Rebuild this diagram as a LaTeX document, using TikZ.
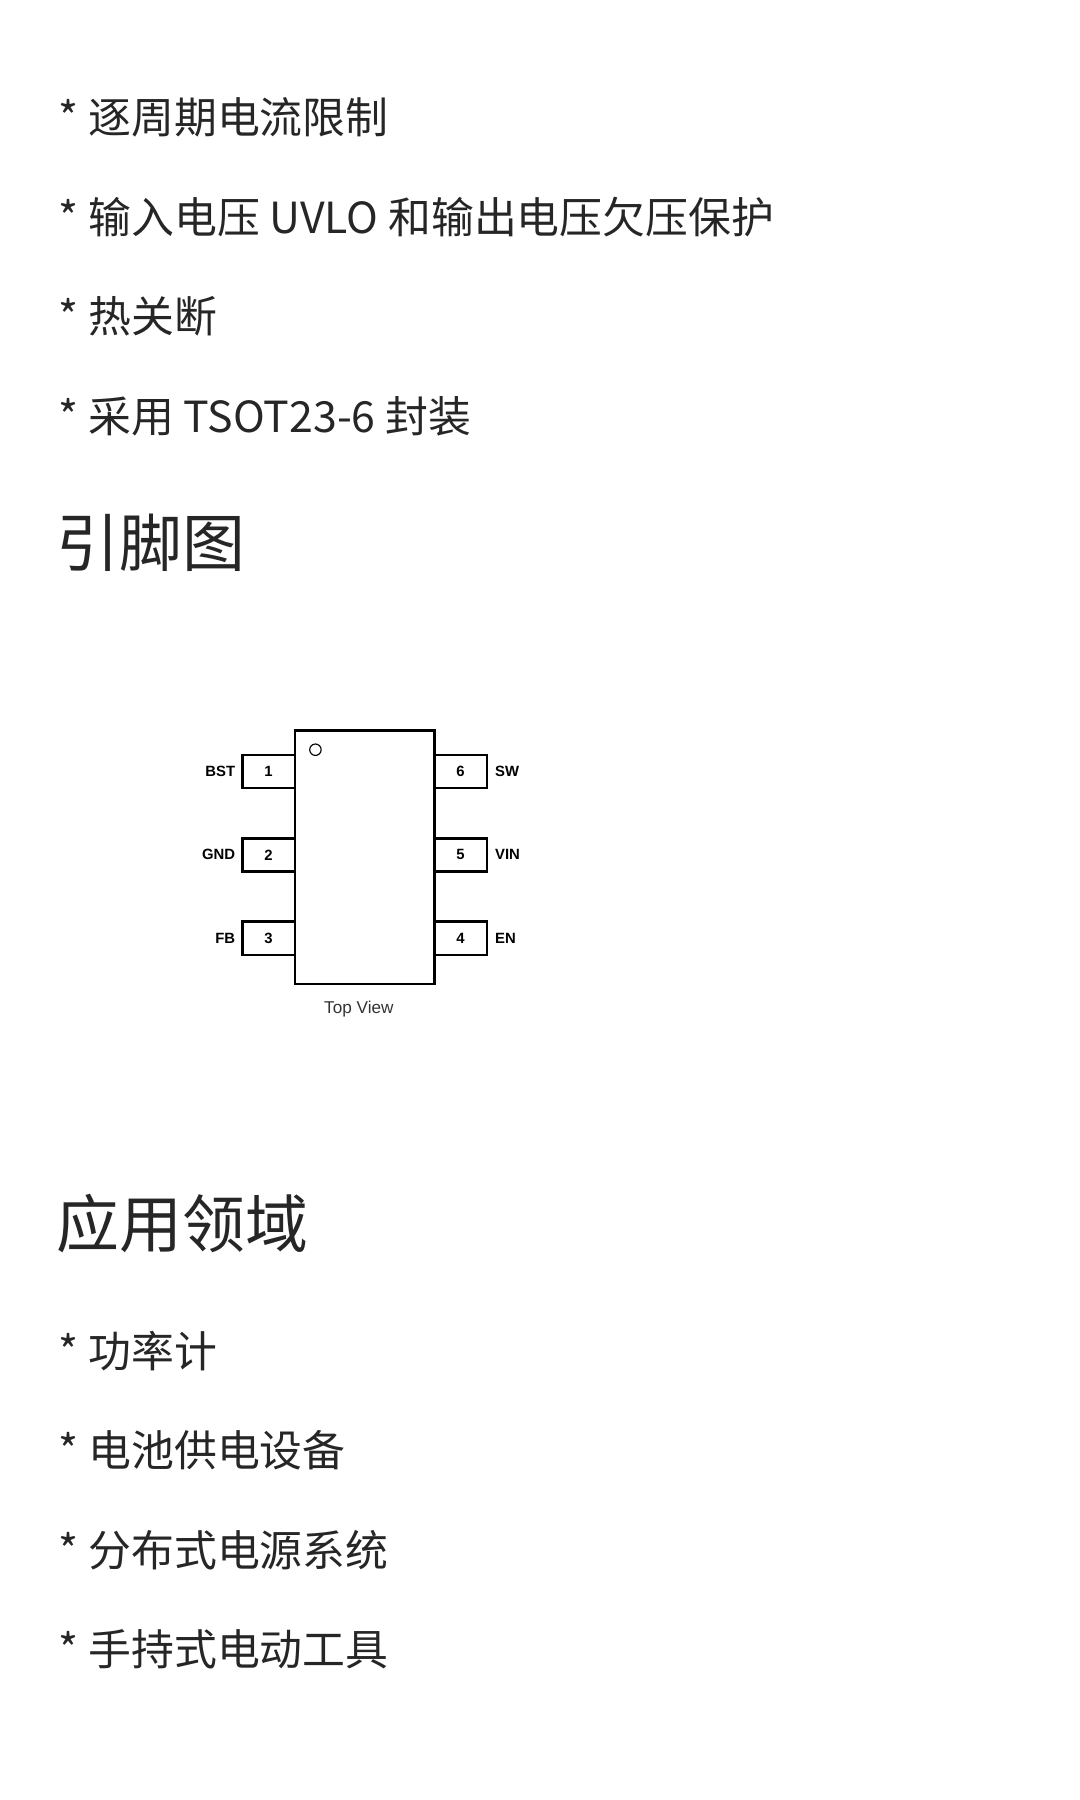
\documentclass[tikz,border=0pt]{standalone}
\usepackage{fontspec}
\setmainfont{Noto Sans CJK SC}
\newfontfamily\pinfont{Liberation Sans}
\begin{document}
\begin{tikzpicture}[x=1pt,y=-1pt,
  line/.style={anchor=west,font=\fontsize{37.5}{42}\selectfont,text=black!85},
  head/.style={anchor=west,font=\fontsize{55}{60}\selectfont,text=black!85},
  pinbox/.style={draw,line width=2.2pt,minimum width=46pt,minimum height=29pt,inner sep=0pt,font=\pinfont\bfseries\fontsize{13}{15}\selectfont},
  pinlbl/.style={font=\pinfont\bfseries\fontsize{13}{15}\selectfont,inner sep=0pt}]
\useasboundingbox (0,0) rectangle (945,1575);
\node[line] (l1) at (48,103) {* 逐周期电流限制};
\node[line] (l2) at (48,190) {* 输入电压 UVLO 和输出电压欠压保护};
\node[line] (l3) at (48,277) {* 热关断};
\node[line] (l4) at (48,364) {* 采用 TSOT23-6 封装};
\node[head] (h1) at (46,475) {引脚图};
\node[head] (h2) at (46,1071) {应用领域};
\node[line] (a1) at (48,1182) {* 功率计};
\node[line] (a2) at (48,1269) {* 电池供电设备};
\node[line] (a3) at (48,1356) {* 分布式电源系统};
\node[line] (a4) at (48,1443) {* 手持式电动工具};
% chip
\begin{scope}[shift={(1,3)}]
\draw[line width=2.2pt] (257,636) rectangle (379,858);
\node[draw,circle,line width=1pt,minimum size=10pt,inner sep=0pt] (dot) at (275,653) {};
\node[pinbox] (p1) at (234,672) {1};
\node[pinbox] (p2) at (234,745) {2};
\node[pinbox] (p3) at (234,818) {3};
\node[pinbox] (p6) at (402,672) {6};
\node[pinbox] (p5) at (402,745) {5};
\node[pinbox] (p4) at (402,818) {4};
\node[pinlbl,anchor=east] at (205,672) {BST};
\node[pinlbl,anchor=east] at (205,745) {GND};
\node[pinlbl,anchor=east] at (205,818) {FB};
\node[pinlbl,anchor=west] at (432,672) {SW};
\node[pinlbl,anchor=west] at (432,745) {VIN};
\node[pinlbl,anchor=west] at (432,818) {EN};
\node[font=\pinfont\fontsize{15}{17}\selectfont,text=black!80] (tv) at (313,880) {Top View};
\end{scope}
\end{tikzpicture}
\end{document}
